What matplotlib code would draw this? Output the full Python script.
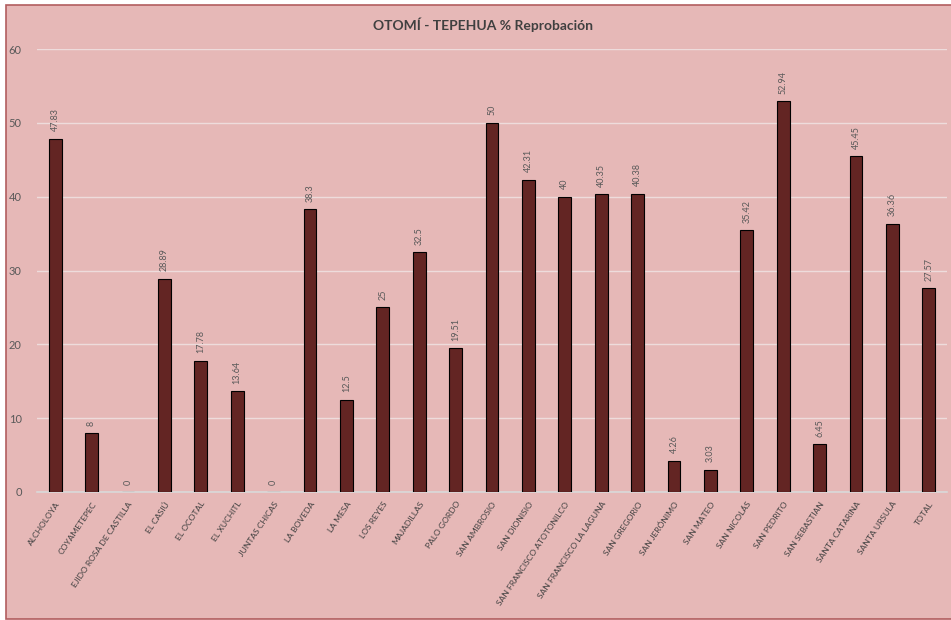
import numpy as np
import matplotlib
matplotlib.use("Agg")
import matplotlib.pyplot as plt
from matplotlib.patches import Rectangle

plt.rcParams['font.family'] = ['Lato', 'DejaVu Sans']

# Data
localidades = ["ALCHOLOYA", "COYAMETEPEC", "EJIDO ROSA DE CASTILLA", "EL CASIÚ", "EL OCOTAL",
               "EL XUCHITL", "JUNTAS CHICAS", "LA BOVEDA", "LA MESA", "LOS REYES",
               "MAJADILLAS", "PALO GORDO", "SAN AMBROSIO", "SAN DIONISIO",
               "SAN FRANCISCO ATOTONILCO", "SAN FRANCISCO LA LAGUNA", "SAN GREGORIO",
               "SAN JERÓNIMO", "SAN MATEO", "SAN NICOLÁS", "SAN PEDRITO", "SAN SEBASTIAN",
               "SANTA CATARINA", "SANTA URSULA", "TOTAL"]
reprobacion = [47.83, 8, 0, 28.89, 17.78, 13.64, 0, 38.3, 12.5, 25, 32.5, 19.51, 50,
               42.31, 40, 40.35, 40.38, 4.26, 3.03, 35.42, 52.94, 6.45, 45.45, 36.36, 27.57]
yticks = [0, 10, 20, 30, 40, 50, 60]

BG = "#E6B8B7"

fig = plt.figure(figsize=(9.51, 6.2), dpi=100, facecolor="white")
# chart area box
fig.patches.append(Rectangle((6 / 951, 1 / 620), 1.0, 614 / 620, transform=fig.transFigure,
                             facecolor=BG, edgecolor="#B25D5F", linewidth=1.2, zorder=-1))

ax = fig.add_axes([37 / 951, 1 - 492 / 620, 910 / 951, 443 / 620])
ax.set_facecolor(BG)
ax.patch.set_alpha(0)

x = np.arange(len(localidades))
bars = ax.bar(x, reprobacion, width=0.35, color="#632523", edgecolor="black",
              linewidth=0.8, zorder=3)

for xi, v in zip(x, reprobacion):
    ax.text(xi, v + 1.0, f"{v:g}", rotation=90, ha="center", va="bottom",
            fontsize=6.5, color="#595959")

ax.set_xlim(-0.5, len(localidades) - 0.5)
ax.set_ylim(0, 60)
ax.set_yticks(yticks)
ax.yaxis.grid(True, color="#EEDCDC", linewidth=1, zorder=0)
ax.set_axisbelow(True)
for s in ["top", "right", "left"]:
    ax.spines[s].set_visible(False)
ax.spines["bottom"].set_color("#D9D9D9")
ax.spines["bottom"].set_linewidth(1.2)
ax.tick_params(length=0)
ax.tick_params(axis="y", labelsize=8, labelcolor="#595959", pad=11)

ax.set_xticks(x)
ax.set_xticklabels(localidades, rotation=56, ha="right", va="top",
                   rotation_mode="anchor", fontsize=6.1, color="#404040")
ax.tick_params(axis="x", pad=6)

fig.text(483 / 951, 1 - 25 / 620, "OTOMÍ - TEPEHUA % Reprobación", ha="center",
         va="center", fontsize=10, fontweight="bold", color="#404040")

fig.savefig("out.png", dpi=100, facecolor="white")
